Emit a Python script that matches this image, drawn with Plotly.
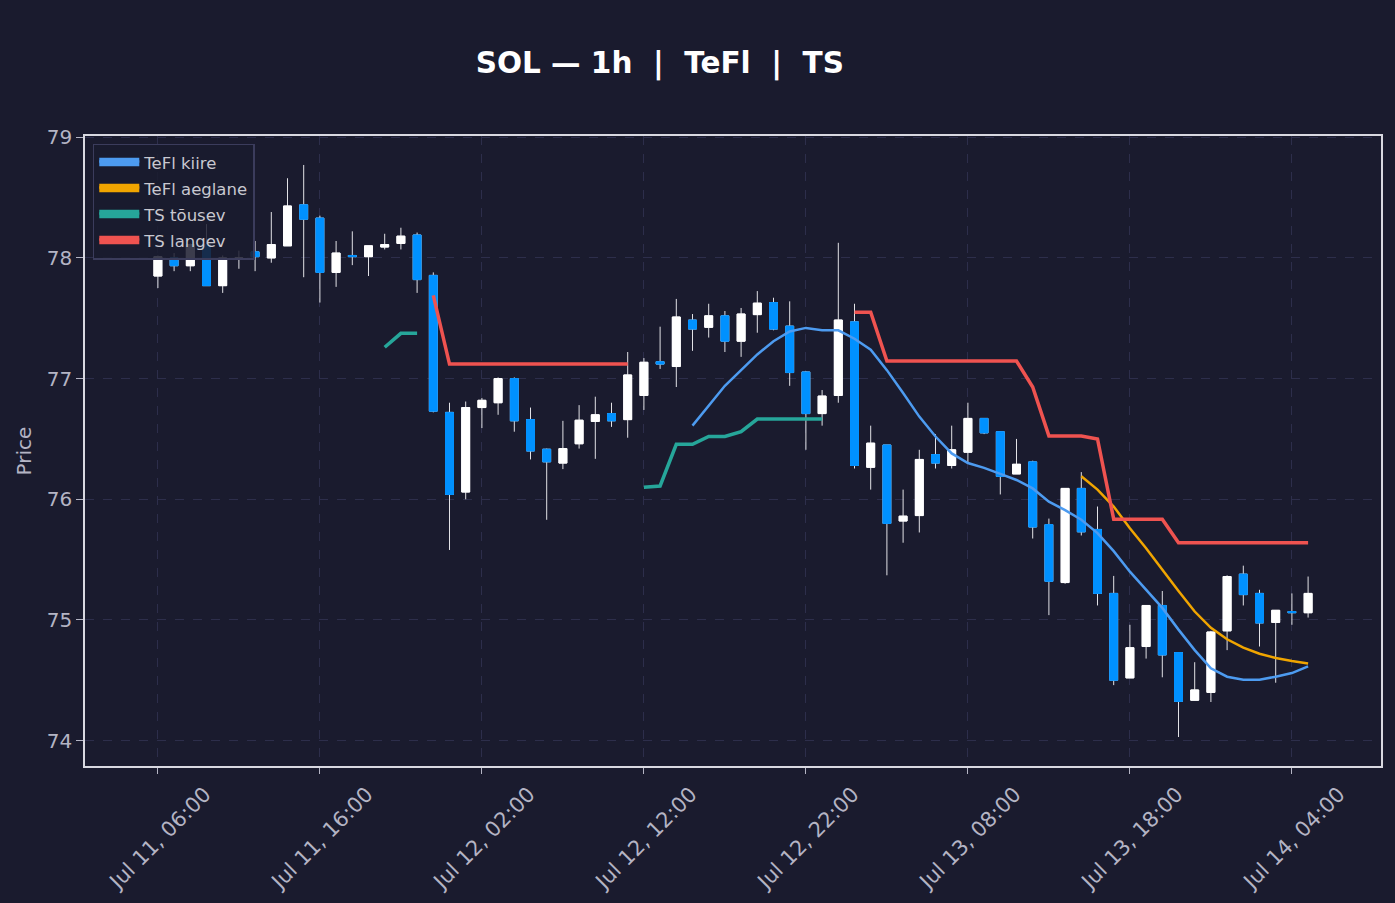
import pandas as pd
import plotly.graph_objects as go

# ---------------- data ----------------
start = "2025-07-11 06:00"
n_bars = 72

open_ = [77.85, 78.00, 77.935, 78.11, 77.77, 77.99, 78.05, 78.00, 78.10, 78.44,
         78.33, 77.88, 78.02, 78.01, 78.09, 78.12, 78.19, 77.855, 76.72, 76.06,
         76.76, 76.80, 77.00, 76.66, 76.415, 76.30, 76.46, 76.645, 76.71, 76.66,
         76.86, 77.14, 77.10, 77.485, 77.425, 77.52, 77.31, 77.53, 77.63, 77.435,
         77.055, 76.71, 76.86, 77.47, 76.265, 76.45, 75.82, 75.865, 76.37, 76.28,
         76.39, 76.67, 76.56, 76.21, 76.31, 75.79, 75.31, 76.09, 75.75, 75.22,
         74.52, 74.78, 75.12, 74.73, 74.335, 74.40, 74.91, 75.38, 75.22, 74.98,
         75.07, 75.06]
high = [78.02, 78.04, 78.12, 78.28, 78.02, 78.06, 78.14, 78.38, 78.66, 78.77,
        78.35, 78.14, 78.22, 78.10, 78.20, 78.25, 78.21, 77.88, 76.80, 76.81,
        76.84, 77.01, 77.01, 76.76, 76.42, 76.65, 76.78, 76.85, 76.80, 77.22,
        77.17, 77.43, 77.66, 77.535, 77.62, 77.56, 77.585, 77.725, 77.67, 77.64,
        77.06, 76.905, 78.125, 77.62, 76.61, 76.45, 76.08, 76.41, 76.54, 76.61,
        76.80, 76.67, 76.56, 76.50, 76.32, 75.84, 76.09, 76.225, 75.94, 75.365,
        74.96, 75.12, 75.24, 74.73, 74.65, 74.91, 75.37, 75.45, 75.25, 75.08,
        75.22, 75.36]
low = [77.75, 77.89, 77.89, 77.77, 77.71, 77.91, 77.89, 77.96, 78.10, 77.84,
       77.63, 77.76, 77.94, 77.85, 78.07, 78.07, 77.71, 76.72, 75.58, 76.00,
       76.59, 76.70, 76.56, 76.33, 75.83, 76.25, 76.42, 76.335, 76.60, 76.51,
       76.74, 77.08, 76.93, 77.23, 77.34, 77.22, 77.18, 77.38, 77.40, 76.94,
       76.41, 76.61, 76.80, 76.255, 76.08, 75.37, 75.64, 75.725, 76.255, 76.255,
       76.305, 76.54, 76.04, 76.21, 75.675, 75.04, 75.30, 75.70, 75.12, 74.46,
       74.52, 74.68, 74.525, 74.03, 74.335, 74.32, 74.75, 75.12, 74.78, 74.48,
       74.96, 75.02]
close = [78.01, 77.935, 78.11, 77.77, 78.00, 78.00, 78.01, 78.11, 78.43, 78.32,
         77.88, 78.04, 78.01, 78.10, 78.11, 78.18, 77.82, 76.73, 76.04, 76.76,
         76.82, 77.00, 76.65, 76.40, 76.31, 76.42, 76.655, 76.70, 76.65, 77.03,
         77.135, 77.12, 77.51, 77.41, 77.52, 77.31, 77.535, 77.625, 77.41, 77.05,
         76.71, 76.855, 77.485, 76.28, 76.465, 75.80, 75.86, 76.33, 76.30, 76.41,
         76.67, 76.55, 76.19, 76.29, 75.77, 75.32, 76.09, 75.73, 75.22, 74.50,
         74.77, 75.12, 74.71, 74.325, 74.42, 74.90, 75.36, 75.21, 74.975, 75.08,
         75.06, 75.22]

N = None
tefl_kiire = [N] * 33 + [76.61, 76.78, 76.94, 77.07, 77.20, 77.31, 77.39, 77.42, 77.40, 77.40,
                         77.33, 77.24, 77.07, 76.88, 76.685, 76.52, 76.38, 76.30, 76.26, 76.21,
                         76.16, 76.09, 75.98, 75.91, 75.83, 75.72, 75.57, 75.40, 75.25, 75.10,
                         74.92, 74.75, 74.60, 74.53, 74.505, 74.505, 74.53, 74.56, 74.615]
tefl_aeglane = [N] * 57 + [76.19, 76.08, 75.94, 75.76, 75.595, 75.415, 75.24, 75.07, 74.935,
                           74.84, 74.77, 74.72, 74.685, 74.66, 74.64]
ts_tousev = ([N] * 14 + [77.26, 77.375, 77.375] + [N] * 13 +
             [76.10, 76.11, 76.455, 76.455, 76.52, 76.52, 76.56, 76.665, 76.665, 76.665,
              76.665, 76.665] + [N] * 29)
ts_langev = ([N] * 17 + [77.69] + [77.12] * 12 + [N] * 13 +
             [77.55, 77.55] + [77.145] * 9 + [76.93, 76.525, 76.525, 76.525, 76.50] +
             [75.835] * 4 + [75.64] * 9)

x_tick0 = "2025-07-11 06:00"
x_range = ["2025-07-11 01:30", "2025-07-14 09:30"]
y_range = [73.79, 79.01]

# ---------------- style ----------------
BG = "#1a1b2e"
GRID = "#2d2e4b"
UP = "#ffffff"
DOWN = "#0091ff"
WICK = "#e2e2e6"
C_KIIRE = "#4d9bf0"
C_AEG = "#f0a500"
C_UP = "#26a69a"
C_DN = "#ef5350"
FONT = "DejaVu Sans"
TICKC = "#b4b4c4"

times = pd.date_range(start, periods=n_bars, freq="h")
body_hi = [max(o, c) for o, c in zip(open_, close)]
body_lo = [min(o, c) for o, c in zip(open_, close)]

fig = go.Figure()

# wicks (full high/low range)
fig.add_trace(go.Candlestick(
    x=times, open=open_, high=high, low=low, close=close,
    increasing=dict(line=dict(color=WICK, width=1), fillcolor=UP),
    decreasing=dict(line=dict(color=WICK, width=1), fillcolor=DOWN),
    showlegend=False, hoverinfo="skip", name="wick"))
# bodies
fig.add_trace(go.Candlestick(
    x=times, open=open_, high=body_hi, low=body_lo, close=close,
    increasing=dict(line=dict(color=UP, width=1), fillcolor=UP),
    decreasing=dict(line=dict(color=DOWN, width=1), fillcolor=DOWN),
    showlegend=False, name="SOL"))

lines = [("TeFl kiire", tefl_kiire, C_KIIRE, 2.5),
         ("TeFl aeglane", tefl_aeglane, C_AEG, 2.5),
         ("TS tõusev", ts_tousev, C_UP, 3.5),
         ("TS langev", ts_langev, C_DN, 3.5)]
for name, vals, col, w in lines:
    fig.add_trace(go.Scatter(x=times, y=vals, mode="lines", name=name,
                             line=dict(color=col, width=w), connectgaps=False,
                             legendgroup=name, showlegend=False))
for name, vals, col, w in lines:
    fig.add_trace(go.Scatter(x=[None], y=[None], mode="lines", name=name,
                             fill="toself", fillcolor=col,
                             line=dict(color=col, width=5),
                             legendgroup=name, showlegend=True))

fig.update_layout(
    width=1395, height=903,
    paper_bgcolor=BG, plot_bgcolor=BG,
    margin=dict(l=85, r=14, t=136, b=137),
    font=dict(family=FONT, color=TICKC, size=17),
    title=dict(text="<b>SOL — 1h  |  TeFl  |  TS</b>", x=0.473, xanchor="center",
               y=0.931, yanchor="middle",
               font=dict(family=FONT, size=29.5, color="#ffffff")),
    legend=dict(x=0.006, y=0.988, xanchor="left", yanchor="top",
                bgcolor="rgba(26,27,46,0.85)", bordercolor="#3b3c5c", borderwidth=1.5,
                font=dict(family=FONT, size=16.5, color="#c8c8d0"),
                itemwidth=40, tracegroupgap=1.5),
    showlegend=True,
)
fig.update_xaxes(
    type="date", range=x_range, rangeslider=dict(visible=False), automargin=False,
    tick0=x_tick0, dtick=10 * 3600 * 1000, tickformat="%b %d, %H:%M",
    tickangle=-45, ticks="outside", ticklen=6, tickcolor=TICKC,
    ticklabelshift=47,
    tickfont=dict(size=21, color=TICKC),
    showgrid=True, gridcolor=GRID, griddash="dash", gridwidth=1,
    showline=True, linecolor="#d8d8e0", linewidth=1.5, mirror=True, zeroline=False)
fig.update_yaxes(
    range=y_range, dtick=1, ticks="outside", ticklen=7, tickcolor=TICKC,
    automargin=False,
    tickfont=dict(size=20, color=TICKC),
    title=dict(text="Price", font=dict(size=20, color=TICKC), standoff=10),
    showgrid=True, gridcolor=GRID, griddash="dash", gridwidth=1,
    showline=True, linecolor="#d8d8e0", linewidth=1.5, mirror=True, zeroline=False)

fig.write_html("out.html")
